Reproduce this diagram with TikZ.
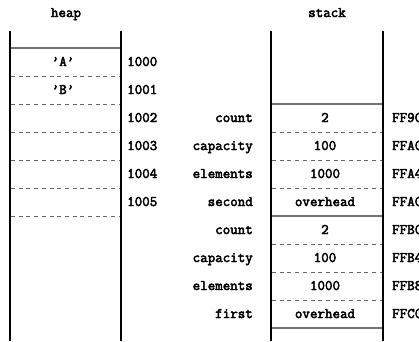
\documentclass[tikz,border=0pt]{standalone}
\usepackage{fontspec}
\setmonofont{Latin Modern Mono}[AutoFakeBold=3]
\begin{document}
\begin{tikzpicture}[x=1pt,y=-1pt,
  txt/.style={font=\ttfamily\bfseries\fontsize{14.6}{16}\selectfont, inner sep=0pt, anchor=base},
  lbl/.style={txt, anchor=base east},
  adr/.style={txt, anchor=base west},
  wall/.style={line width=1.6pt, black},
  solidsep/.style={line width=1.2pt, black!55},
  dashsep/.style={line width=1pt, black!60, dash pattern=on 4pt off 3.7pt}]
\useasboundingbox (0,0) rectangle (419,341);
\clip (0,0) rectangle (419,341);

% ---- heap column ----
\node[txt] (heapT) at (66,17) {heap};
\draw[wall] (10,31) -- (10,341);
\draw[wall] (121,31) -- (121,341);
\draw[solidsep] (11,48) -- (120,48);
\foreach \y in {76,104,132,160,188,216}
  \draw[dashsep] (11,\y) -- (120,\y);
\node[txt] (hA) at (63,66) {’A’};
\node[txt] (hB) at (63,94) {’B’};
\foreach \a [count=\i from 0] in {1000,1001,1002,1003,1004,1005}
  \node[adr] (ha\i) at (127,66+28*\i) {\a};

% ---- stack column ----
\node[txt] (stackT) at (327,17) {stack};
\draw[wall] (271,31) -- (271,341);
\draw[wall] (383,31) -- (383,341);
\foreach \y in {104,216,328}
  \draw[solidsep] (272,\y) -- (382,\y);
\foreach \y in {132,160,188,244,272,300}
  \draw[dashsep] (272,\y) -- (382,\y);

\foreach \l/\v/\a [count=\i from 0] in
  {count/2/FF9C, capacity/100/FFA0, elements/1000/FFA4, second/overhead/FFAC,
   count/2/FFB0, capacity/100/FFB4, elements/1000/FFB8, first/overhead/FFC0}
{
  \node[lbl] (sl\i) at (253,122+28*\i) {\l};
  \node[txt] (sv\i) at (325,122+28*\i) {\v};
  \node[adr] (sa\i) at (392,122+28*\i) {\a};
}
\end{tikzpicture}
\end{document}
